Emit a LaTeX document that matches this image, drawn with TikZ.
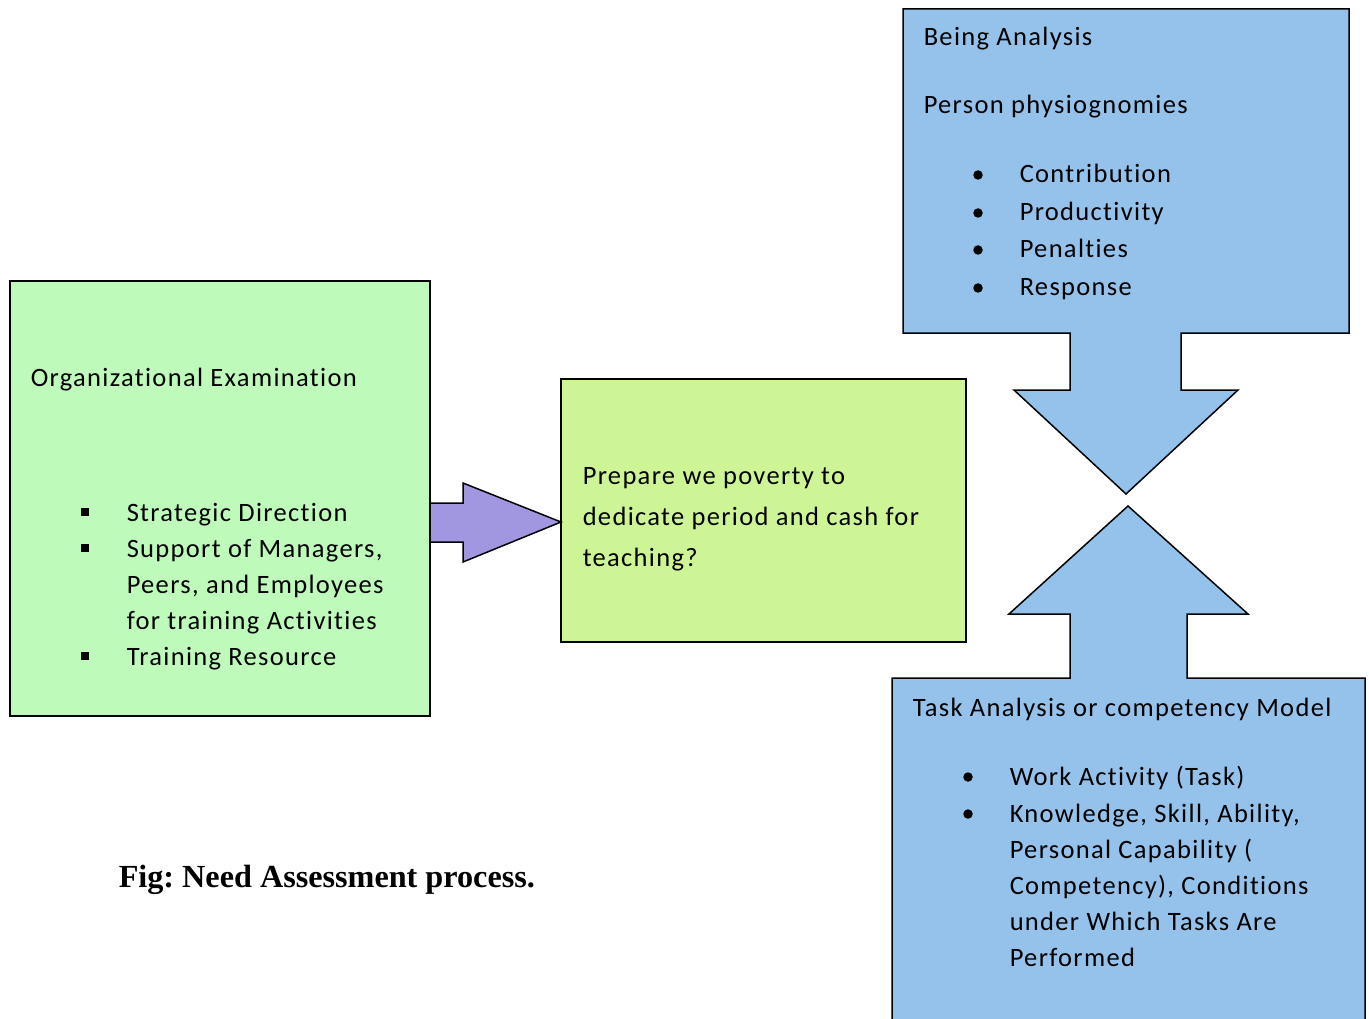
\documentclass[tikz,border=0pt]{standalone}
\usepackage{fontspec}
\setmainfont{Carlito}[LetterSpace=5,Ligatures=NoCommon]
\newfontfamily\capfont{Liberation Serif}
\definecolor{orggreen}{RGB}{190,250,186}
\definecolor{prepgreen}{RGB}{205,245,150}
\definecolor{anablue}{RGB}{148,194,234}
\definecolor{arrowpurple}{RGB}{161,151,224}

\begin{document}
\begin{tikzpicture}[x=1pt,y=-1pt,line width=1.5pt,line join=miter,
  txt/.style={anchor=base west,inner sep=0pt,font=\fontsize{26.5}{30}\selectfont},
  dotb/.style={circle,fill=black,inner sep=0pt,minimum size=9.5pt},
  sqb/.style={rectangle,fill=black,inner sep=0pt,minimum size=8.5pt}]

\useasboundingbox (0,0) rectangle (1369,1019);

% boxes
\draw [fill=orggreen] (10,281) rectangle (430,716);
\draw [fill=prepgreen] (561,379) rectangle (966,642);

% box with down arrow
\draw [fill=anablue] (903,9) -- (1349,9) -- (1349,333) -- (1181,333) -- (1181,390)
  -- (1238,390) -- (1126,494) -- (1014,390) -- (1070,390) -- (1070,333) -- (903,333) -- cycle;

% box with up arrow
\draw [fill=anablue] (892,1040) -- (892,678) -- (1070,678) -- (1070,614) -- (1009,614)
  -- (1128,506) -- (1248,614) -- (1187,614) -- (1187,678) -- (1365,678) -- (1365,1040);

% arrow between the green boxes
\draw [fill=arrowpurple] (430,503) -- (463,503) -- (463,483) -- (561,522) -- (463,562)
  -- (463,542) -- (430,542) -- cycle;

% organizational examination
\node [txt] (org) at (30,386) {Organizational Examination};
\node [sqb] (os1) at (85,512) {};
\node [txt] (ot1) at (126,521) {Strategic Direction};
\node [sqb] (os2) at (85,548) {};
\node [txt] (ot2) at (126,557) {Support of Managers,};
\node [txt] (ot3) at (126,593) {Peers, and Employees};
\node [txt] (ot4) at (126,629) {for training Activities};
\node [sqb] (os3) at (85,656) {};
\node [txt] (ot5) at (126,665) {Training Resource};

% middle question
\node [txt] (pq1) at (582,484) {Prepare we poverty to};
\node [txt] (pq2) at (582,525) {dedicate period and cash for};
\node [txt] (pq3) at (582,566) {teaching?};

% being analysis
\node [txt] (ba) at (923,46) {Being Analysis};
\node [txt] (pp) at (923,114) {Person physiognomies};
\foreach \y/\t [count=\i] in {183/Contribution,221/Productivity,258/Penalties,296/Response} {
  \node [dotb] (bd\i) at (978,\y-8) {};
  \node [txt] (bt\i) at (1019,\y) {\t};
}

% task analysis
\node [txt] (ta) at (912,716) {Task Analysis or competency Model};
\node [dotb] (td1) at (968,777) {};
\node [txt] (tt1) at (1009,785) {Work Activity (Task)};
\node [dotb] (td2) at (968,814) {};
\node [txt] (tt2) at (1009,822) {Knowledge, Skill, Ability,};
\node [txt] (tt3) at (1009,858) {Personal Capability (};
\node [txt] (tt4) at (1009,894) {Competency), Conditions};
\node [txt] (tt5) at (1009,930) {under Which Tasks Are};
\node [txt] (tt6) at (1009,966) {Performed};

% caption
\node [anchor=base west,inner sep=0pt,font=\capfont\bfseries\fontsize{32.2}{36}\selectfont\frenchspacing] (cap) at (118,887) {Fig: Need Assessment process.};
\end{tikzpicture}
\end{document}
